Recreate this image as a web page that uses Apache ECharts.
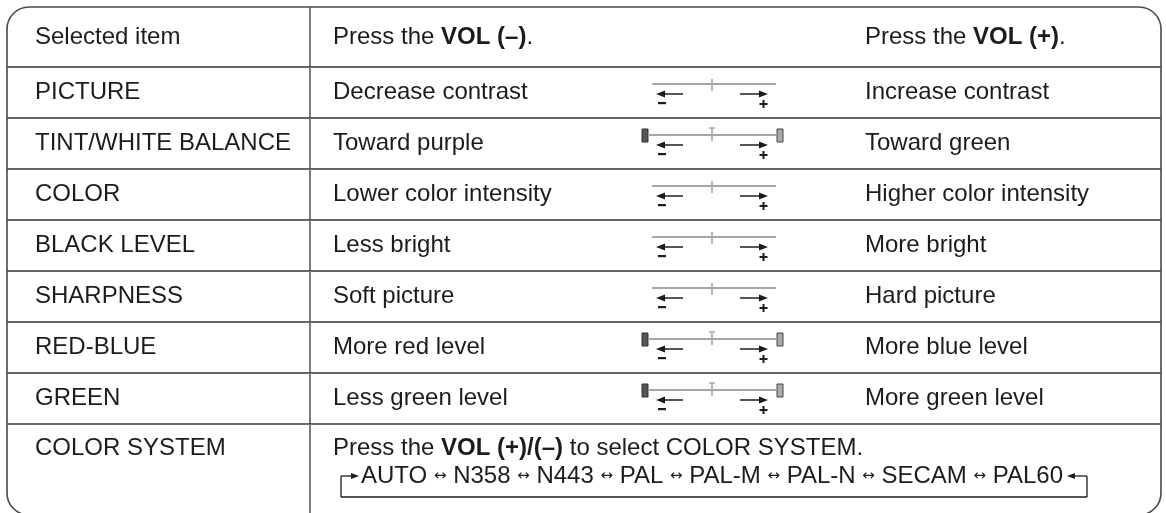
<!DOCTYPE html>
<html>
<head>
<meta charset="utf-8">
<script src="https://cdn.jsdelivr.net/npm/echarts@6/dist/echarts.min.js"></script>
<style>
html, body { margin: 0; padding: 0; background: #fff; }
#main { width: 1166px; height: 513px; }
</style>
</head>
<body>
<div id="main"></div>
<script>
// table content
const items = ['Selected item', 'PICTURE', 'TINT/WHITE BALANCE', 'COLOR', 'BLACK LEVEL', 'SHARPNESS', 'RED-BLUE', 'GREEN', 'COLOR SYSTEM']
const decreaseText = ['Press the {b|VOL (–)}.', 'Decrease contrast', 'Toward purple', 'Lower color intensity', 'Less bright', 'Soft picture', 'More red level', 'Less green level', 'Press the {b|VOL (+)/(–)} to select COLOR SYSTEM.']
const increaseText = ['Press the {b|VOL (+)}.', 'Increase contrast', 'Toward green', 'Higher color intensity', 'More bright', 'Hard picture', 'More blue level', 'More green level', '']
// slider kind per row: level = plain bar, balance = bar with end blocks
const sliderKind = ['', 'level', 'balance', 'level', 'level', 'level', 'balance', 'balance', '']
const colorSystems = ['AUTO', 'N358', 'N443', 'PAL', 'PAL-M', 'PAL-N', 'SECAM', 'PAL60']

// layout (pixels of the value axes)
const W = 1166, H = 513
const LEFT = 7, RIGHT = 1161, TOP = 7, BOTTOM = 515
const COL1 = 310
const HEAD_BOTTOM = 67, ROW_H = 51
const X_ITEM = 35, X_DEC = 333, X_INC = 865, X_SLIDER = 712
const FONT = '24px "Liberation Sans", Arial, sans-serif'
const INK = '#1c1c1c'

const rowTop = i => (i === 0 ? TOP : HEAD_BOTTOM + (i - 1) * ROW_H)
const rowBottom = i => (i === items.length - 1 ? BOTTOM : HEAD_BOTTOM + i * ROW_H)

function renderRow(params, api) {
  const i = api.value(0)
  const top = rowTop(i)
  const bottom = rowBottom(i)
  const last = i === items.length - 1
  const mid = last ? 448 : (top + bottom) / 2
  const c = (x, y) => api.coord([x, y])
  const kids = []

  const line = (x1, y1, x2, y2, stroke, w) => {
    const a = c(x1, y1), b = c(x2, y2)
    kids.push({ type: 'line', shape: { x1: a[0], y1: a[1], x2: b[0], y2: b[1] }, style: { stroke: stroke, lineWidth: w } })
  }
  const rect = (x, y, w, h, fill, stroke) => {
    const a = c(x, y), b = c(x + w, y + h)
    kids.push({ type: 'rect', shape: { x: a[0], y: a[1], width: b[0] - a[0], height: b[1] - a[1] }, style: { fill: fill, stroke: stroke || null, lineWidth: 1 } })
  }
  const poly = pts => {
    kids.push({ type: 'polygon', shape: { points: pts.map(p => c(p[0], p[1])) }, style: { fill: INK } })
  }
  const text = (x, y, str, align, extra) => {
    const p = c(x, y)
    kids.push({
      type: 'text', x: p[0], y: p[1],
      style: Object.assign({
        text: str, font: FONT, fill: INK, align: align || 'left', verticalAlign: 'middle',
        rich: { b: { fontWeight: 'bold', fontSize: 24, fontFamily: '"Liberation Sans", Arial, sans-serif', fill: INK } }
      }, extra || {})
    })
  }

  // horizontal rule above the row, vertical rule between first two columns
  if (i > 0) line(LEFT, top, RIGHT, top, '#333', 1.6)
  line(COL1, top, COL1, Math.min(bottom, H), '#7a7a7a', 2)

  text(X_ITEM, mid, items[i])
  text(X_DEC, mid, decreaseText[i])
  if (increaseText[i]) text(X_INC, mid, increaseText[i])

  // slider sketch
  const kind = sliderKind[i]
  if (kind) {
    const L = mid - 8.5
    const A = L + 10
    if (kind === 'balance') {
      rect(642, L - 6, 6, 13, '#555', '#333')
      rect(777, L - 6, 6, 13, '#aaa', '#444')
      line(648, L, 777, L, '#a6a6a6', 2)
      line(X_SLIDER, L - 7, X_SLIDER, L + 6, '#a6a6a6', 1.6)
      line(X_SLIDER - 3, L - 7, X_SLIDER + 3, L - 7, '#a6a6a6', 1.4)
    } else {
      line(652, L, 776, L, '#a6a6a6', 2)
      line(X_SLIDER, L - 5, X_SLIDER, L + 7, '#a6a6a6', 1.6)
    }
    // arrows
    line(664, A, 683, A, INK, 1.5)
    poly([[656, A], [665, A - 3.5], [665, A + 3.5]])
    line(740, A, 759, A, INK, 1.5)
    poly([[768, A], [759, A - 3.5], [759, A + 3.5]])
    // minus / plus
    rect(658, L + 18, 8, 2.2, INK)
    rect(759.5, L + 19, 8, 2, INK)
    rect(762.5, L + 16, 2, 8, INK)
  }

  // color system cycle
  if (last) {
    const y = 476, yb = 497
    const sep = ' {a|↔} '
    text((361 + 1063) / 2, y, colorSystems.join(sep), 'center', {
      font: '24px "Liberation Sans", Arial, sans-serif',
      rich: { a: { fontSize: 15, fontFamily: '"DejaVu Sans", sans-serif', fill: INK } }
    })
    line(341, y, 341, yb, INK, 1.3)
    line(341, yb, 1087, yb, INK, 1.3)
    line(1087, y, 1087, yb, INK, 1.3)
    line(341, y, 352, y, INK, 1.3)
    poly([[359, y], [351, y - 3], [351, y + 3]])
    line(1075, y, 1087, y, INK, 1.3)
    poly([[1067, y], [1075, y - 3], [1075, y + 3]])
  }

  return { type: 'group', children: kids }
}

const chart = echarts.init(document.getElementById('main'))
chart.setOption({
  animation: false,
  grid: { left: 0, right: 0, top: 0, bottom: 0 },
  xAxis: { type: 'value', min: 0, max: W, show: false },
  yAxis: { type: 'value', min: 0, max: H, inverse: true, show: false },
  // rounded outer frame
  graphic: [{
    type: 'rect',
    shape: { x: LEFT, y: TOP, width: RIGHT - LEFT, height: BOTTOM - TOP, r: 22 },
    style: { fill: 'none', stroke: '#4a4a4a', lineWidth: 1.6 },
    z: 10
  }],
  series: [{
    type: 'custom',
    renderItem: renderRow,
    clip: false,
    data: items.map((_, i) => [i])
  }]
})
</script>
</body>
</html>
